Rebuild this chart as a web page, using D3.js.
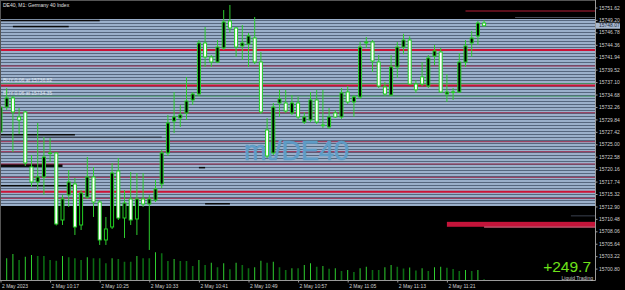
<!DOCTYPE html>
<html>
<head>
<meta charset="utf-8">
<script src="https://cdn.jsdelivr.net/npm/d3@7"></script>
<style>
html, body { margin: 0; padding: 0; background: #000; }
svg { display: block; font-family: "Liberation Sans", Arial, sans-serif; }
</style>
</head>
<body>
<svg id="chart" width="625" height="290"></svg>
<script>
// DE40 M1 candles, one per minute starting 10:09
var opens  = [15727.39,15732.25,15734.01,15730.31,15731.28,15720.58,15717.66,15718.63,15723.30,15723.30,
              15710.26,15715.13,15717.27,15709.29,15714.74,15718.63,15713.76,15706.37,15708.90,15719.80,
              15710.65,15714.35,15710.46,15714.35,15713.37,15714.15,15717.27,15723.30,15729.53,15730.11,
              15731.09,15733.62,15734.78,15744.71,15741.99,15741.01,15743.74,15748.99,15747.63,15744.13,
              15744.52,15745.68,15741.01,15727.78,15723.30,15733.03,15733.03,15731.09,15733.03,15729.33,
              15729.72,15733.62,15728.75,15728.36,15731.09,15730.31,15735.17,15733.23,15734.20,15744.71,
              15744.91,15741.01,15736.15,15734.59,15740.04,15743.93,15745.29,15736.73,15738.09,15736.34,
              15742.18,15742.96,15734.78,15735.17,15735.17,15741.01,15744.71,15746.07,15748.60];
var highs  = [15732.60,15735.95,15734.40,15732.06,15731.48,15722.91,15729.14,15726.41,15726.22,15723.50,
              15715.13,15719.99,15718.44,15716.10,15722.52,15720.58,15714.15,15710.85,15721.35,15722.33,
              15716.10,15719.60,15719.41,15719.41,15715.13,15718.05,15723.89,15730.70,15735.17,15732.64,
              15738.09,15735.17,15745.29,15747.83,15742.37,15745.29,15751.13,15752.11,15747.83,15748.21,
              15746.66,15749.77,15742.96,15730.11,15733.03,15735.56,15735.56,15734.59,15734.20,15731.28,
              15735.17,15735.56,15735.56,15732.06,15731.67,15735.95,15736.34,15734.59,15744.91,15745.88,
              15745.29,15742.37,15737.12,15742.37,15744.91,15746.50,15746.00,15737.50,15741.01,15742.37,
              15744.32,15743.74,15738.68,15735.95,15742.76,15745.29,15747.05,15748.99,15749.19];
var lows   = [15727.00,15731.67,15723.50,15727.00,15720.77,15716.69,15716.10,15715.13,15721.55,15709.20,
              15709.29,15712.79,15707.34,15708.31,15714.35,15710.85,15705.40,15705.40,15708.51,15710.26,
              15706.76,15709.29,15707.34,15712.79,15704.43,15713.76,15716.49,15722.72,15727.19,15728.36,
              15729.72,15732.64,15734.40,15740.04,15740.04,15740.80,15743.35,15746.66,15741.99,15741.40,
              15740.04,15740.60,15730.89,15722.33,15722.91,15730.31,15731.09,15730.70,15729.92,15728.95,
              15729.33,15728.95,15728.17,15727.97,15730.11,15729.92,15732.84,15730.31,15733.81,15743.74,
              15739.07,15735.95,15734.40,15734.40,15737.90,15742.50,15736.50,15735.00,15736.34,15735.95,
              15740.43,15734.98,15733.23,15733.62,15734.98,15740.04,15741.99,15744.32,15747.90];
var closes = [15732.25,15734.01,15731.28,15729.72,15721.35,15717.66,15718.63,15722.52,15723.20,15709.48,
              15714.35,15717.66,15708.90,15715.52,15718.63,15713.76,15706.37,15708.51,15719.41,15710.65,
              15713.57,15710.26,15714.35,15713.37,15714.35,15716.30,15723.30,15729.14,15730.31,15730.70,
              15733.42,15734.78,15744.71,15741.99,15741.01,15743.93,15748.80,15747.63,15743.93,15744.71,
              15746.07,15741.01,15731.28,15722.72,15732.25,15733.81,15731.48,15733.03,15730.31,15730.31,
              15733.62,15729.33,15728.70,15730.31,15730.31,15734.98,15733.23,15734.20,15743.93,15744.91,
              15741.21,15736.34,15734.78,15740.04,15743.93,15745.29,15736.73,15735.60,15736.73,15741.79,
              15743.15,15735.17,15735.17,15735.20,15741.01,15744.13,15745.68,15748.60,15748.07];
var volumes = [80,89,106,82,95,102,98,98,82,79,98,93,89,82,93,89,89,69,89,86,
               75,75,98,89,89,113,109,78,86,78,78,58,82,62,71,53,69,45,71,62,
               49,53,79,71,75,53,42,49,49,62,69,55,58,47,49,38,42,34,49,55,
               42,42,53,62,55,48,52,40,49,38,53,55,51,46,38,42,38,42,5];

var priceTicks = [15700.80,15703.22,15705.64,15708.06,15710.48,15712.90,15715.32,15717.74,15720.16,15722.58,
                  15725.00,15727.42,15729.84,15732.26,15734.68,15737.10,15739.52,15741.94,15744.36,15746.78,
                  15749.20,15751.62];
var timeBars   = [0, 8, 16, 24, 32, 40, 48, 56, 64, 72];
var timeLabels = ["2 May 2023","2 May 10:17","2 May 10:25","2 May 10:33","2 May 10:41",
                  "2 May 10:49","2 May 10:57","2 May 11:05","2 May 11:13","2 May 11:21"];

// levels drawn across the chart
var strongLevels = [15743.35, 15736.44, 15715.77];
var weakLevels   = [15740.23, 15731.14, 15725.50, 15723.55, 15721.16, 15718.57, 15714.48];
var orderPrices  = [15736.82, 15734.35];
var orderLabels  = ["BUY 0.06 at 15736.82", "BUY 0.06 at 15734.35"];
// depth bars: price, first bar, last bar
var depthPrices = [15749.03, 15747.86, 15726.80, 15726.31, 15720.97, 15716.88, 15720.40, 15713.37];
var depthFrom   = [0, 2, 0, 0, 0, 0, 32, 33];
var depthTo     = [16, 11, 12, 26, 10, 12, 33, 37];
var bandTop = 15749.38, bandBottom = 15712.99;
var lastPrice = 15748.07;

var svg = d3.select("#chart");
var plotRight = 595, plotBottom = 280.5;

var y = d3.scaleLinear().domain([15700.80, 15751.62]).range([268.6, 7.5]);
var x = d3.scaleLinear().domain([0, 78]).range([0.5, 484.1]);
var yVol = d3.scaleLinear().domain([0, 120]).range([plotBottom, 250.5]);

var candles = opens.map(function(o, i){
  return {i: i, o: o, h: highs[i], l: lows[i], c: closes[i], v: volumes[i]};
});

var defs = svg.append("defs");
defs.append("clipPath").attr("id", "plot")
  .append("rect").attr("x", 0).attr("y", 1).attr("width", plotRight).attr("height", plotBottom - 1);
var pat = defs.append("pattern").attr("id", "stripes")
  .attr("patternUnits", "userSpaceOnUse").attr("width", 8).attr("height", 3);
pat.append("rect").attr("width", 8).attr("height", 3).attr("fill", "#56677f");
pat.append("rect").attr("width", 8).attr("height", 2).attr("fill", "#9bb0cb");

var plot = svg.append("g").attr("clip-path", "url(#plot)");

// striped depth band
plot.append("rect")
  .attr("x", 0).attr("width", plotRight)
  .attr("y", y(bandTop)).attr("height", y(bandBottom) - y(bandTop))
  .attr("fill", "url(#stripes)");

// depth bars
plot.selectAll(".depth").data(depthPrices).enter().append("rect")
  .attr("x", function(d, i){ return x(depthFrom[i]); })
  .attr("width", function(d, i){ return x(depthTo[i]) - x(depthFrom[i]); })
  .attr("y", function(d){ return y(d) - 1; })
  .attr("height", function(d, i){ return i == 4 ? 3 : 1.5; })
  .attr("fill", function(d, i){ return i == 3 ? "#3c4556" : "#0a0a0a"; });

// upper levels outside the band
plot.append("line").attr("x1", x(75)).attr("x2", plotRight)
  .attr("y1", y(15750.94)).attr("y2", y(15750.94))
  .style("stroke", "#7a1424").style("stroke-width", "1.5px");
plot.append("line").attr("x1", x(83)).attr("x2", plotRight)
  .attr("y1", y(15749.67)).attr("y2", y(15749.67))
  .style("stroke", "#4a4f58").style("stroke-width", "1px");

// lower band
plot.append("rect").attr("x", x(72)).attr("width", plotRight - x(72))
  .attr("y", y(15709.90)).attr("height", y(15708.94) - y(15709.90))
  .attr("fill", "#c4143a");
plot.append("rect").attr("x", x(78)).attr("width", plotRight - x(78))
  .attr("y", y(15709.00)).attr("height", 1.2)
  .attr("fill", "#e0607e");
plot.append("line").attr("x1", x(92)).attr("x2", plotRight)
  .attr("y1", y(15710.48) - 3).attr("y2", y(15710.48) - 3)
  .style("stroke", "#3a4250").style("stroke-width", "1px");

plot.selectAll(".weak").data(weakLevels).enter().append("line")
  .attr("x1", 0).attr("x2", plotRight)
  .attr("y1", function(d){ return y(d); }).attr("y2", function(d){ return y(d); })
  .style("stroke", "#9a2a4c").style("stroke-width", "1px");

plot.selectAll(".strong").data(strongLevels).enter().append("line")
  .attr("x1", 0).attr("x2", plotRight)
  .attr("y1", function(d){ return y(d); }).attr("y2", function(d){ return y(d); })
  .style("stroke", "#cc1236").style("stroke-width", "2px");

// order lines
plot.selectAll(".order").data(orderPrices).enter().append("line")
  .attr("x1", 0).attr("x2", plotRight)
  .attr("y1", function(d){ return y(d); }).attr("y2", function(d){ return y(d); })
  .style("stroke", "#3f9a5a").style("stroke-width", "0.8px");
plot.selectAll(".orderText").data(orderPrices).enter().append("text")
  .attr("x", 3).attr("y", function(d){ return y(d) - 1.5; })
  .text(function(d, i){ return orderLabels[i]; })
  .style("font-size", "5px").style("fill", "#dfe6ee");

// watermark
plot.append("text").attr("x", 244).attr("y", y(15722.0))
  .text("mt/DE40")
  .style("font-size", "27px").style("fill", "#5e9cc6")
  .style("stroke", "#5e9cc6").style("stroke-width", "0.6px");

// volumes
plot.selectAll(".vol").data(candles).enter().append("line")
  .attr("x1", function(d){ return x(d.i); }).attr("x2", function(d){ return x(d.i); })
  .attr("y1", plotBottom).attr("y2", function(d){ return yVol(d.v); })
  .style("stroke", function(d, i){ return i > 0 && d.v <= volumes[i-1] ? "#0b6a12" : "#2fcf2f"; })
  .style("stroke-width", function(d, i){ return i > 0 && d.v <= volumes[i-1] ? "1.6px" : "1px"; });

// candles
var cg = plot.selectAll(".candle").data(candles).enter().append("g");
cg.append("line")
  .attr("x1", function(d){ return x(d.i); }).attr("x2", function(d){ return x(d.i); })
  .attr("y1", function(d){ return y(d.h); }).attr("y2", function(d){ return y(d.l); })
  .style("stroke", "#2ecc2e").style("stroke-width", "1px");
cg.append("rect")
  .attr("x", function(d){ return x(d.i) - 1.5; })
  .attr("width", 3)
  .attr("y", function(d){ return y(Math.max(d.o, d.c)); })
  .attr("height", function(d){ return Math.max(0.6, Math.abs(y(d.o) - y(d.c))); })
  .attr("fill", function(d){ return d.c >= d.o ? "#000" : "#fff"; })
  .style("stroke", "#22d022").style("stroke-width", "1px");

// frame
svg.append("line").attr("x1", 0).attr("x2", plotRight).attr("y1", 0.5).attr("y2", 0.5)
  .style("stroke", "#555").style("stroke-width", "1px");
svg.append("line").attr("x1", 0.5).attr("x2", 0.5).attr("y1", 0).attr("y2", plotBottom)
  .style("stroke", "#555").style("stroke-width", "1px");

// price axis
var yAxis = svg.append("g").attr("transform", "translate(" + (plotRight + 0.5) + ",0)")
  .call(d3.axisRight(y).tickValues(priceTicks).tickFormat(d3.format(".2f")).tickSize(2).tickSizeOuter(0));
yAxis.select(".domain").attr("d", "M0,0V" + plotBottom).style("stroke", "#9a9a9a");
yAxis.selectAll(".tick line").style("stroke", "#9a9a9a");
yAxis.selectAll(".tick text").attr("x", 3.5).style("font-size", "5px").style("fill", "#d0d0d0")
  .style("font-family", "Liberation Sans, Arial, sans-serif");

// last price box
svg.append("rect").attr("x", plotRight + 1).attr("y", y(lastPrice) - 3)
  .attr("width", 24).attr("height", 6).attr("fill", "#a9b9cf");
svg.append("text").attr("x", plotRight + 4).attr("y", y(lastPrice)).attr("dy", "0.34em")
  .text(d3.format(".2f")(lastPrice)).style("font-size", "5px").style("fill", "#1c2a3c");

// time axis
var xAxis = svg.append("g").attr("transform", "translate(0," + plotBottom + ")")
  .call(d3.axisBottom(x).tickValues(timeBars).tickFormat(function(d, i){ return timeLabels[i]; })
    .tickSize(2).tickSizeOuter(0));
xAxis.select(".domain").attr("d", "M0,0H" + (plotRight + 0.5)).style("stroke", "#9a9a9a");
xAxis.selectAll(".tick line").style("stroke", "#9a9a9a");
xAxis.selectAll(".tick text").attr("text-anchor", "start").attr("x", 1).attr("y", 3.5)
  .style("font-size", "5px").style("fill", "#d0d0d0")
  .style("font-family", "Liberation Sans, Arial, sans-serif");

// titles
svg.append("text").attr("x", 3).attr("y", 6.5).text("DE40, M1:  Germany 40 Index")
  .style("font-size", "5px").style("fill", "#e0e0e0");
svg.append("text").attr("x", 591).attr("y", 272).attr("text-anchor", "end").text("+249.7")
  .style("font-size", "15.5px").style("fill", "#6ee21a");
svg.append("text").attr("x", 593).attr("y", 280).attr("text-anchor", "end").text("Liquid Trading")
  .style("font-size", "5px").style("fill", "#c8c8c8");
</script>
</body>
</html>
